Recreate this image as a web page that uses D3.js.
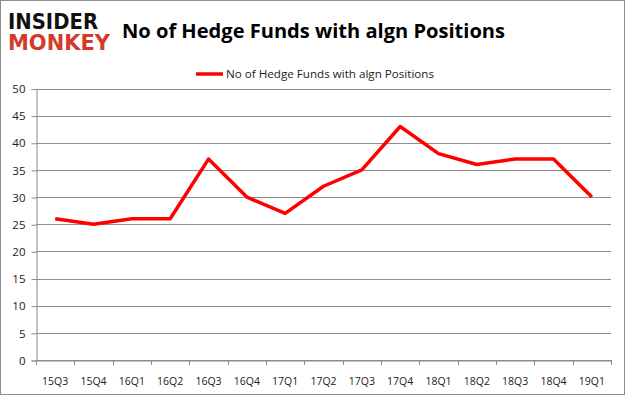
<!DOCTYPE html>
<html>
<head>
<meta charset="utf-8">
<script src="https://cdn.jsdelivr.net/npm/d3@7"></script>
<style>
  body { margin: 0; background: #fff; }
  svg { display: block; }
</style>
</head>
<body>
<svg id="chart" width="625" height="395"></svg>
<script>
var quarters = ["15Q3", "15Q4", "16Q1", "16Q2", "16Q3", "16Q4", "17Q1", "17Q2",
				"17Q3", "17Q4", "18Q1", "18Q2", "18Q3", "18Q4", "19Q1"];
var funds = [26, 25, 26, 26, 37, 30, 27, 32, 35, 43, 38, 36, 37, 37, 30];
var yTicks = [0, 5, 10, 15, 20, 25, 30, 35, 40, 45, 50];
var titleText = "No of Hedge Funds with algn Positions";

var svg = d3.select("#chart");
var width = 625, height = 395;
var plotLeft = 36, plotRight = 611, plotTop = 88.5, plotBottom = 360;
var font = "'Open Sans', 'DejaVu Sans', sans-serif";

// frame
svg.append("rect")
	.attr("x", 0.5).attr("y", 0.5)
	.attr("width", width - 1).attr("height", height - 1)
	.attr("fill", "#fff").attr("stroke", "#8c8c8c");

var xScale = d3.scaleBand()
	.domain(quarters)
	.range([plotLeft, plotRight]);

var yScale = d3.scaleLinear()
	.domain([0, 50])
	.range([plotBottom, plotTop]);

// gridlines
svg.append("g")
	.selectAll("line")
	.data(yTicks)
	.enter().append("line")
		.attr("x1", plotLeft).attr("x2", plotRight)
		.attr("y1", function(d) { return Math.round(yScale(d)) + 0.5; })
		.attr("y2", function(d) { return Math.round(yScale(d)) + 0.5; })
		.attr("stroke", "#8c8c8c");

// y axis
var yAxis = svg.append("g")
	.attr("transform", "translate(" + (plotLeft + 0.5) + ",0.5)")
	.call(d3.axisLeft(yScale).tickValues(yTicks).tickSize(5).tickPadding(6));
yAxis.select(".domain").attr("stroke", "#8c8c8c");
yAxis.selectAll(".tick line").attr("stroke", "#8c8c8c");
yAxis.selectAll("text").attr("font-family", font).attr("font-size", 11.5).attr("fill", "#222");

// x axis
var xAxis = svg.append("g")
	.attr("transform", "translate(0," + (Math.round(plotBottom) + 0.5) + ")")
	.call(d3.axisBottom(xScale).tickSize(0).tickPadding(17));
xAxis.select(".domain").attr("stroke", "#8c8c8c");
xAxis.selectAll("text").attr("font-family", font).attr("font-size", 10.5).attr("fill", "#222");
svg.append("g")
	.selectAll("line")
	.data(quarters.concat(["end"]))
	.enter().append("line")
		.attr("x1", function(d, i) { return Math.round(plotLeft + i * xScale.bandwidth()) + 0.5; })
		.attr("x2", function(d, i) { return Math.round(plotLeft + i * xScale.bandwidth()) + 0.5; })
		.attr("y1", plotBottom).attr("y2", plotBottom + 5)
		.attr("stroke", "#8c8c8c");

// series line
var line = d3.line()
	.x(function(d, i) { return xScale(quarters[i]) + xScale.bandwidth() / 2; })
	.y(function(d) { return yScale(d); });

svg.append("path")
	.datum(funds)
	.attr("d", line)
	.attr("fill", "none")
	.attr("stroke", "#ff0000")
	.attr("stroke-width", 3.5)
	.attr("stroke-linejoin", "round");

// title
svg.append("text")
	.attr("x", 122).attr("y", 38)
	.attr("font-family", font).attr("font-weight", "bold")
	.attr("font-size", 20)
	.attr("textLength", 383).attr("lengthAdjust", "spacingAndGlyphs")
	.text(titleText);

// legend
svg.append("line")
	.attr("x1", 196).attr("x2", 223)
	.attr("y1", 74).attr("y2", 74)
	.attr("stroke", "#ff0000").attr("stroke-width", 3.5);
svg.append("text")
	.attr("x", 226).attr("y", 78)
	.attr("font-family", font).attr("font-size", 11)
	.attr("textLength", 208).attr("lengthAdjust", "spacingAndGlyphs")
	.attr("fill", "#222")
	.text(titleText);

// logo
svg.append("text")
	.attr("x", 8).attr("y", 29)
	.attr("font-family", "'DejaVu Sans', sans-serif").attr("font-weight", "bold")
	.attr("font-size", 21)
	.attr("textLength", 90).attr("lengthAdjust", "spacingAndGlyphs")
	.attr("fill", "#111")
	.text("INSIDER");
svg.append("text")
	.attr("x", 8).attr("y", 50)
	.attr("font-family", "'DejaVu Sans', sans-serif").attr("font-weight", "bold")
	.attr("font-size", 21)
	.attr("textLength", 102).attr("lengthAdjust", "spacingAndGlyphs")
	.attr("fill", "#d23b2a")
	.text("MONKEY");
</script>
</body>
</html>
